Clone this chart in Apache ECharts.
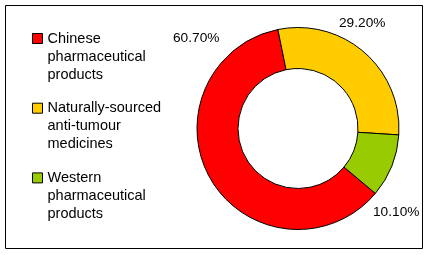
<!DOCTYPE html>
<html><head><meta charset="utf-8">
<script src="https://cdn.jsdelivr.net/npm/echarts@6/dist/echarts.min.js"></script>
<style>html,body{margin:0;padding:0;background:#fff}#c{width:429px;height:255px}</style>
</head><body><div id="c"></div>
<script>
const categories = ['Chinese\npharmaceutical\nproducts', 'Naturally-sourced\nanti-tumour\nmedicines', 'Western\npharmaceutical\nproducts'];
const values = [60.7, 29.2, 10.1];
const colors = ['#FF0000', '#FFCC00', '#99CC00'];
const labelPos = [[173, 38.5], [339, 23.7], [373, 212.5]];

const chart = echarts.init(document.getElementById('c'), null, {renderer: 'canvas'});
chart.setOption({
  animation: false,
  backgroundColor: '#fff',
  graphic: [{type: 'rect', shape: {x: 5.5, y: 5.5, width: 417, height: 243}, style: {fill: 'none', stroke: '#000', lineWidth: 1}, silent: true}],
  legend: {
    orient: 'vertical', left: 32, top: -6.5, padding: 0, itemGap: -20.3,
    itemWidth: 10, itemHeight: 10, icon: 'rect',
    itemStyle: {borderColor: '#000', borderWidth: 1},
    formatter: name => '\n\n' + name,
    textStyle: {fontFamily: 'Liberation Sans', fontSize: 14.5, lineHeight: 18, color: '#000'},
    data: categories
  },
  series: [{
    type: 'pie', center: [298, 128.5], radius: [60, 101], startAngle: -40, clockwise: true,
    avoidLabelOverlap: false,
    itemStyle: {borderColor: '#000', borderWidth: 1},
    label: {show: true, position: 'outside', fontFamily: 'Liberation Sans', fontSize: 13.7, color: '#000',
      formatter: p => p.value.toFixed(2) + '%'},
    labelLine: {show: false},
    labelLayout: p => ({x: labelPos[p.dataIndex][0], y: labelPos[p.dataIndex][1], align: 'left', verticalAlign: 'middle'}),
    emphasis: {disabled: true},
    data: categories.map((c, i) => ({name: c, value: values[i], itemStyle: {color: colors[i]}}))
  }]
});
</script></body></html>
